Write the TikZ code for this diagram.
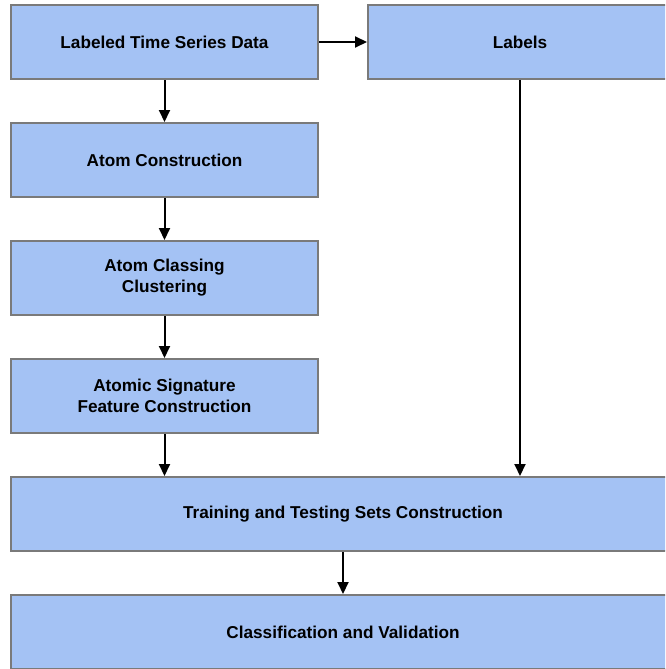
\documentclass[tikz,border=0pt]{standalone}
\usepackage{fontspec}
\setmainfont{Liberation Sans}
\usetikzlibrary{arrows.meta}
\definecolor{boxfill}{HTML}{A4C2F4}
\definecolor{boxline}{HTML}{7A7A7A}
\tikzset{
  stepbox/.style={draw=boxline, line width=2pt, fill=boxfill, inner sep=0pt,
    font=\fontsize{17.2}{21}\selectfont\bfseries, align=center},
  flow/.style={line width=2pt, -{Triangle[length=12pt,width=11pt]}}
}
\begin{document}
\begin{tikzpicture}[x=1pt,y=-1pt]
\useasboundingbox (0,0) rectangle (665,669);
\clip (0,0) rectangle (665,669);
\fill[white] (0,0) rectangle (665,669);
\node[stepbox, minimum width=307pt, minimum height=74pt] (data) at (164.5,42) {Labeled Time Series Data};
\node[stepbox, minimum width=304pt, minimum height=74pt] (labels) at (520,42) {Labels};
\node[stepbox, minimum width=307pt, minimum height=74pt] (atom) at (164.5,160) {Atom Construction};
\node[stepbox, minimum width=307pt, minimum height=74pt] (classing) at (164.5,278) {Atom Classing\\Clustering};
\node[stepbox, minimum width=307pt, minimum height=74pt] (sig) at (164.5,396) {Atomic Signature\\Feature Construction};
\node[stepbox, minimum width=664pt, minimum height=74pt] (train) at (343,514) {Training and Testing Sets Construction};
\node[stepbox, minimum width=664pt, minimum height=74pt] (valid) at (343,632) {Classification and Validation};
\draw[flow] (data) -- (labels);
\draw[flow] (data) -- (atom);
\draw[flow] (atom) -- (classing);
\draw[flow] (classing) -- (sig);
\draw[flow] (sig.south) -- (sig.south |- train.north);
\draw[flow] (labels.south) -- (labels.south |- train.north);
\draw[flow] (train) -- (valid);
\end{tikzpicture}
\end{document}
